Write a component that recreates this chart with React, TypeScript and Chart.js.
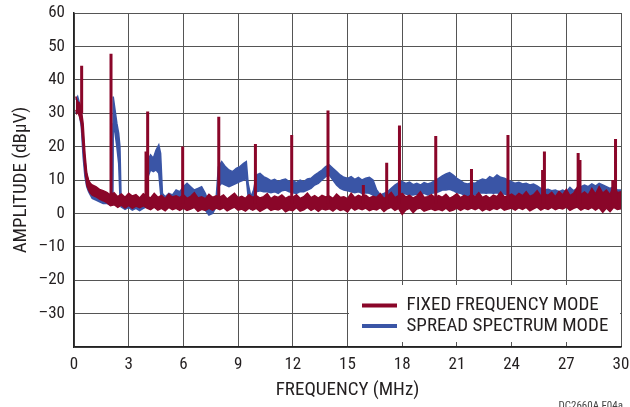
import React, { useEffect, useRef } from "react";
import { Chart, registerables } from "chart.js";

Chart.register(...registerables);

const FONT =
  "'Liberation Sans Narrow', 'Arial Narrow', 'Roboto Condensed', 'DejaVu Sans Condensed', 'Liberation Sans', Arial, sans-serif";

const RED = "#8a0629";
const BLUE = "#3a55a6";
const INK = "#231f20";

// ---- Axis ticks ----
const xTickValues = [0, 3, 6, 9, 12, 15, 18, 21, 24, 27, 30];
const xTickLabels = ["0", "3", "6", "9", "12", "15", "18", "21", "24", "27", "30"];
const yTickValues = [-30, -20, -10, 0, 10, 20, 30, 40, 50, 60];
const yTickLabels = ["–30", "–20", "–10", "0", "10", "20", "30", "40", "50", "60"];

const seriesLabels = ["FIXED FREQUENCY MODE", "SPREAD SPECTRUM MODE"];

// ---- Fixed frequency mode: noise floor band (MHz, dBµV) ----
const fixedFreqMHz = [
  0.1, 0.15, 0.2, 0.3, 0.4, 0.5, 0.6, 0.7, 0.8, 0.9, 1.0, 1.2, 1.4, 1.6, 1.8,
  2.0, 2.2, 2.4, 2.6, 2.8, 3.0, 3.2, 3.4, 3.6, 3.8,
  4.0, 4.2, 4.4, 4.6, 4.8, 5.0, 5.2, 5.4, 5.6, 5.8,
  6.0, 6.2, 6.4, 6.6, 6.8, 7.0, 7.2, 7.4, 7.6, 7.8,
  8.0, 8.2, 8.4, 8.6, 8.8, 9.0, 9.2, 9.4, 9.6, 9.8,
  10.0, 10.2, 10.4, 10.6, 10.8, 11.0, 11.2, 11.4, 11.6, 11.8,
  12.0, 12.2, 12.4, 12.6, 12.8, 13.0, 13.2, 13.4, 13.6, 13.8,
  14.0, 14.2, 14.4, 14.6, 14.8, 15.0, 15.2, 15.4, 15.6, 15.8,
  16.0, 16.2, 16.4, 16.6, 16.8, 17.0, 17.2, 17.4, 17.6, 17.8,
  18.0, 18.2, 18.4, 18.6, 18.8, 19.0, 19.2, 19.4, 19.6, 19.8,
  20.0, 20.2, 20.4, 20.6, 20.8, 21.0, 21.2, 21.4, 21.6, 21.8,
  22.0, 22.2, 22.4, 22.6, 22.8, 23.0, 23.2, 23.4, 23.6, 23.8,
  24.0, 24.2, 24.4, 24.6, 24.8, 25.0, 25.2, 25.4, 25.6, 25.8,
  26.0, 26.2, 26.4, 26.6, 26.8, 27.0, 27.2, 27.4, 27.6, 27.8,
  28.0, 28.2, 28.4, 28.6, 28.8, 29.0, 29.2, 29.4, 29.6, 29.8,
  30.0,
];
const fixedUpperDbuv = [
  35, 34, 33.5, 33, 31, 27, 18, 12, 10, 9, 8.5, 8, 7.2, 6.8, 6.3,
  5.5, 6.2, 5.0, 5.8, 4.8, 6.0, 5.2, 5.6, 4.6, 5.9,
  5.2, 4.6, 6.0, 4.8, 5.4, 4.4, 5.8, 4.9, 5.3, 4.7,
  5.6, 4.5, 5.1, 6.2, 4.6, 5.0, 4.4, 5.7, 4.8, 5.3,
  4.9, 5.5, 4.3, 5.2, 6.0, 4.7, 5.1, 4.5, 5.6, 4.8,
  5.3, 4.6, 5.0, 5.9, 4.4, 5.2, 4.8, 5.5, 4.5, 5.1,
  4.8, 5.6, 4.5, 5.0, 6.1, 4.7, 5.3, 4.6, 5.4, 4.9,
  5.2, 4.5, 5.8, 4.8, 5.0, 4.4, 6.0, 4.7, 5.4, 4.9,
  5.5, 4.6, 5.1, 4.8, 5.9, 4.5, 5.2, 6.3, 4.7, 5.3,
  6.0, 4.9, 5.4, 4.6, 5.2, 6.5, 4.8, 5.0, 5.6, 4.7,
  5.3, 4.8, 5.7, 4.5, 5.1, 5.9, 4.7, 5.4, 4.9, 5.6,
  5.0, 6.2, 4.8, 5.3, 4.6, 5.5, 5.0, 6.4, 4.9, 5.2,
  5.8, 5.0, 6.0, 5.3, 6.5, 5.1, 5.6, 6.8, 5.2, 5.9,
  5.4, 6.3, 5.0, 6.6, 5.5, 7.2, 5.3, 6.0, 7.8, 5.6,
  6.4, 5.5, 7.5, 5.8, 8.0, 6.1, 7.0, 5.6, 8.5, 6.2,
  6.5,
];
const fixedLowerDbuv = [
  31, 30, 30.5, 29, 27, 20, 13, 8.5, 7, 6, 5.5, 5, 4.3, 3.8, 3.2,
  2.3, 2.6, 1.8, 2.5, 1.6, 2.4, 1.5, 2.2, 1.7, 2.3,
  1.6, 1.1, 1.9, 1.0, 1.5, 0.8, 1.8, 1.1, 1.5, 0.9,
  1.6, 0.9, 1.3, 1.8, 0.6, 1.2, 0.9, 1.5, 1.0, 1.6,
  1.1, 1.7, 0.8, 1.4, 1.9, 1.0, 1.3, 0.7, 1.6, 1.0,
  1.5, 0.6, 1.2, 1.8, 0.9, 1.3, 1.0, 1.6, 0.5, 1.1,
  0.8, 1.7, 0.7, 1.1, 1.8, 0.9, 1.5, 0.6, 1.4, 1.0,
  1.4, 0.7, 1.6, 0.9, 1.2, 0.4, 1.8, 1.0, 1.5, 1.1,
  1.6, 0.8, 1.3, 1.0, 1.7, 0.6, 1.4, 1.8, 0.9, 1.5,
  -0.3, 1.0, 1.5, 0.2, 1.3, 1.6, 0.7, 1.1, 1.4, 0.9,
  1.2, 0.8, 1.6, 0.7, 1.0, 1.6, 0.9, 1.5, 1.1, 1.6,
  1.1, 1.7, 0.8, 1.4, 0.9, 1.5, 1.2, 1.8, 1.0, 1.3,
  1.6, 1.0, 1.7, 1.2, 1.8, 0.8, 1.4, 1.9, 1.0, 1.6,
  1.2, 1.8, 1.1, 1.6, 1.3, 1.9, 0.9, 1.5, 1.9, 1.0,
  1.6, 1.2, 1.8, 1.0, 1.7, 0.3, 1.6, 0.5, 1.8, 1.2,
  1.4,
];

// ---- Fixed frequency mode: switching harmonics (MHz, dBµV) ----
const spikeFreqMHz = [
  0.42, 2.03, 3.95, 4.04, 5.96, 7.94, 9.95, 11.94, 13.93, 15.87, 17.15,
  17.85, 19.84, 21.8, 23.8, 25.7, 25.8, 27.65, 27.75, 29.55, 29.7,
];
const spikePeakDbuv = [
  44.2, 47.8, 18.5, 30.5, 20, 28.9, 20.8, 23.5, 30.8, 8.5, 15.2,
  26.3, 23.2, 13.3, 23.5, 13, 18.5, 18.1, 16, 10, 22.3,
];
const spikeBaseDbuv = [
  30, 3, 3, 3, 3, 3, 3, 3, 3, 3, 3,
  3, 3, 3, 3, 3, 3, 3, 3, 3, 3,
];

// ---- Spread spectrum mode band (MHz, dBµV) ----
const spreadFreqMHz = [
  0.1, 0.2, 0.3, 0.4, 0.5, 0.6, 0.7, 0.8, 0.9, 1.0, 1.2, 1.4, 1.6, 1.8, 2.0,
  2.12, 2.15, 2.25, 2.35, 2.45, 2.52, 2.58, 2.8, 3.0, 3.2, 3.4, 3.6, 3.8,
  4.0, 4.06, 4.2, 4.35, 4.5, 4.65, 4.75, 4.85, 5.0, 5.2, 5.4, 5.6, 5.8,
  6.0, 6.2, 6.4, 6.6, 6.8, 7.0, 7.2, 7.4, 7.6, 7.8, 7.92,
  8.1, 8.3, 8.5, 8.7, 8.9, 9.1, 9.3, 9.45, 9.55, 9.7, 9.85,
  10.0, 10.2, 10.4, 10.6, 10.8, 11.0, 11.2, 11.4, 11.6, 11.8,
  12.0, 12.2, 12.4, 12.6, 12.8, 13.0, 13.2, 13.4, 13.6, 13.8,
  14.0, 14.2, 14.4, 14.6, 14.8, 15.0, 15.2, 15.4, 15.6, 15.8,
  16.0, 16.2, 16.4, 16.6, 16.8, 17.0, 17.2, 17.4, 17.6, 17.8,
  18.0, 18.2, 18.4, 18.6, 18.8, 19.0, 19.2, 19.4, 19.6, 19.8,
  20.0, 20.2, 20.4, 20.6, 20.8, 21.0, 21.2, 21.4, 21.6, 21.8,
  22.0, 22.2, 22.4, 22.6, 22.8, 23.0, 23.2, 23.4, 23.6, 23.8,
  24.0, 24.2, 24.4, 24.6, 24.8, 25.0, 25.2, 25.4, 25.6, 25.8,
  26.0, 26.2, 26.4, 26.6, 26.8, 27.0, 27.2, 27.4, 27.6, 27.8,
  28.0, 28.2, 28.4, 28.6, 28.8, 29.0, 29.2, 29.4, 29.6, 29.8,
  30.0,
];
const spreadUpperDbuv = [
  34, 35, 33, 30, 24, 16, 11.5, 9.5, 8.5, 7.5, 7, 6.5, 6, 6, 5.5,
  6, 35, 31, 27, 24, 20, 5, 4.5, 5, 4.2, 5, 4.5, 5,
  5, 16, 17.5, 16.5, 19, 20.5, 18, 6, 5, 6, 5.5, 7, 6.5,
  8, 9, 8, 7, 7.5, 8, 6, 3, 3.5, 5, 14,
  15.5, 14, 13, 12.5, 13.5, 14, 15, 15.5, 9, 5, 7,
  11.5, 12, 11, 10.5, 9.8, 10.2, 9.5, 10, 10.3, 9.5,
  9.8, 9.2, 10, 9.5, 10.3, 10.5, 11.5, 12.2, 13, 14,
  14.5, 13.5, 12.5, 11.5, 10.8, 10.5, 11, 10.2, 10.8, 10,
  10.5, 10.8, 10, 7, 5.5, 6, 6.5, 7.5, 8.5, 9.2,
  9.5, 9, 9.4, 8.6, 9, 8.5, 9.2, 8.8, 9.2, 9.8,
  10.5, 11.2, 11.8, 12.2, 11.5, 10.5, 9.8, 9, 8.8, 9.2,
  9, 9.8, 10.3, 10, 11, 10.5, 11.5, 10.8, 10.5, 10,
  9.5, 9, 9.3, 8.8, 9, 8.5, 8.8, 8.2, 7.5, 7,
  7.2, 6.8, 7, 6.5, 7, 6.5, 7.8, 6.8, 7.5, 8,
  8.5, 8, 8.8, 8.2, 9, 8.5, 8, 7.5, 8, 7,
  7,
];
const spreadLowerDbuv = [
  30, 31, 29.5, 26, 17, 11, 8, 6.5, 5.5, 4.5, 4, 3.5, 3, 3, 2.5,
  3, 27, 24, 20, 15, 5, 2, 1.2, 1.8, 1, 1.5, 0.8, 1.5,
  2, 11, 13, 12.5, 13, 12, 6, 2, 1.2, 2, 1.5, 2, 2.5,
  3, 3.5, 3, 2.5, 2, 2, 1, -0.5, 0, 2, 8,
  9, 8.5, 8, 8.5, 9, 9.5, 10, 10.5, 5, 1.5, 3,
  6.5, 6.8, 6.5, 6.5, 6.2, 6.5, 6, 6.8, 7, 6.5,
  6.2, 6, 6.5, 6.5, 7, 7.5, 8.5, 9, 10, 11,
  11.5, 10, 8.5, 7.5, 7, 6.8, 6.5, 6.2, 6.5, 6,
  6.2, 6, 5.5, 3.5, 2.5, 3, 3.5, 4, 5, 5.5,
  6, 5.8, 5.5, 5.5, 5.8, 5.5, 6, 5.5, 6, 6.2,
  6.5, 7, 7, 7.2, 6.8, 6.2, 6, 5.5, 5.2, 5.5,
  5.5, 6, 6.2, 6, 6.2, 6, 6.2, 5.8, 5.8, 5.5,
  5.2, 5, 5, 4.8, 5, 4.8, 4.8, 4.5, 4.2, 4,
  4, 3.8, 3.8, 3.5, 3.8, 3.5, 4, 3.8, 4, 4.2,
  4.5, 4.5, 4.5, 4.5, 4.8, 4.5, 4.2, 4, 4.2, 4,
  4,
];

type Pt = { x: number; y: number | null };

const toPoints = (xs: number[], ys: number[]): Pt[] =>
  xs.map((x, i) => ({ x, y: ys[i] }));

export default function App() {
  const canvasRef = useRef<HTMLCanvasElement | null>(null);

  useEffect(() => {
    const canvas = canvasRef.current;
    if (!canvas) return;

    const spikePoints: Pt[] = [];
    spikeFreqMHz.forEach((f, i) => {
      spikePoints.push({ x: f, y: spikeBaseDbuv[i] });
      spikePoints.push({ x: f, y: spikePeakDbuv[i] });
      spikePoints.push({ x: f, y: null });
    });

    const legendBackdrop = {
      id: "legendBackdrop",
      afterLayout(chart: any) {
        const lg = chart.legend;
        const ca = chart.chartArea;
        if (!lg || !ca) return;
        lg.left = ca.right - 260.5;
        lg.top = ca.bottom - 52.5;
        lg.right = ca.right - 1;
        lg.bottom = ca.bottom;
        lg.width = lg.right - lg.left;
        lg.height = lg.bottom - lg.top;
      },
      afterDatasetsDraw(chart: any) {
        const ca = chart.chartArea;
        const ctx = chart.ctx;
        ctx.save();
        ctx.fillStyle = "#ffffff";
        ctx.fillRect(ca.right - 272, ca.bottom - 62, 271, 57);
        ctx.restore();
        if (chart.legend) chart.legend.draw();
      },
      afterDraw(chart: any) {
        const ctx = chart.ctx;
        ctx.save();
        ctx.fillStyle = "#444";
        ctx.font = `11px ${FONT}`;
        ctx.textAlign = "right";
        ctx.textBaseline = "top";
        ctx.fillText("DC2660A F04a", chart.width - 7, chart.height - 6.5);
        ctx.restore();
      },
    };

    const chart = new Chart(canvas, {
      type: "line",
      data: {
        datasets: [
          {
            label: seriesLabels[0] + " harmonics",
            data: spikePoints as any,
            borderColor: RED,
            backgroundColor: RED,
            borderWidth: 3,
            borderCapStyle: "butt",
            pointRadius: 0,
            spanGaps: false,
            fill: false,
          },
          {
            label: seriesLabels[0],
            data: toPoints(fixedFreqMHz, fixedUpperDbuv) as any,
            borderColor: RED,
            backgroundColor: RED,
            borderWidth: 1.5,
            pointRadius: 0,
            fill: "+1",
          },
          {
            label: seriesLabels[0] + " floor",
            data: toPoints(fixedFreqMHz, fixedLowerDbuv) as any,
            borderColor: RED,
            backgroundColor: RED,
            borderWidth: 1.5,
            pointRadius: 0,
            fill: false,
          },
          {
            label: seriesLabels[1],
            data: toPoints(spreadFreqMHz, spreadUpperDbuv) as any,
            borderColor: BLUE,
            backgroundColor: BLUE,
            borderWidth: 1.5,
            pointRadius: 0,
            fill: "+1",
          },
          {
            label: seriesLabels[1] + " floor",
            data: toPoints(spreadFreqMHz, spreadLowerDbuv) as any,
            borderColor: BLUE,
            backgroundColor: BLUE,
            borderWidth: 1.5,
            pointRadius: 0,
            fill: false,
          },
        ],
      },
      options: {
        animation: false,
        responsive: true,
        maintainAspectRatio: false,
        events: [],
        layout: { padding: 0 },
        elements: { line: { tension: 0 } },
        scales: {
          x: {
            type: "linear",
            min: 0,
            max: 30,
            afterBuildTicks: (scale: any) => {
              scale.ticks = xTickValues.map((v) => ({ value: v }));
            },
            afterFit: (scale: any) => {
              scale.height = 60;
              scale.paddingRight = 9;
              scale.paddingLeft = 0;
            },
            ticks: {
              autoSkip: false,
              maxRotation: 0,
              padding: 8,
              color: INK,
              font: { family: FONT, size: 17 },
              callback: (v: any) => {
                const i = xTickValues.indexOf(Number(v));
                return i >= 0 ? xTickLabels[i] : "";
              },
            },
            grid: { color: "#555", lineWidth: 1, drawTicks: false },
            border: { color: "#222", width: 1.5 },
            title: {
              display: true,
              text: "FREQUENCY (MHz)",
              color: INK,
              font: { family: FONT, size: 19 },
              padding: { top: 0, bottom: 5 },
            },
          },
          y: {
            type: "linear",
            min: -40,
            max: 60,
            afterBuildTicks: (scale: any) => {
              scale.ticks = [-40, ...yTickValues].map((v) => ({ value: v }));
            },
            afterFit: (scale: any) => {
              scale.width = 74;
              scale.paddingTop = 13;
              scale.paddingBottom = 0;
            },
            ticks: {
              padding: 9,
              color: INK,
              font: { family: FONT, size: 17 },
              callback: (v: any) => {
                const i = yTickValues.indexOf(Number(v));
                return i >= 0 ? yTickLabels[i] : "";
              },
            },
            grid: { color: "#555", lineWidth: 1, drawTicks: false },
            border: { color: "#222", width: 1.5 },
            title: {
              display: true,
              text: "AMPLITUDE (dBµV)",
              color: INK,
              font: { family: FONT, size: 19 },
              padding: { top: 10, bottom: 0 },
            },
          },
        },
        plugins: {
          tooltip: { enabled: false },
          legend: {
            position: "chartArea",
            align: "start",
            labels: {
              boxWidth: 35,
              boxHeight: 4,
              padding: 1.5,
              color: INK,
              font: { family: FONT, size: 19 },
              generateLabels: () => [
                {
                  text: seriesLabels[0],
                  fillStyle: RED,
                  strokeStyle: RED,
                  lineWidth: 0,
                  hidden: false,
                  datasetIndex: 1,
                  fontColor: INK,
                },
                {
                  text: seriesLabels[1],
                  fillStyle: BLUE,
                  strokeStyle: BLUE,
                  lineWidth: 0,
                  hidden: false,
                  datasetIndex: 3,
                  fontColor: INK,
                },
              ],
            },
          },
        },
      } as any,
      plugins: [legendBackdrop],
    });

    return () => {
      chart.destroy();
    };
  }, []);

  return (
    <div
      style={{
        position: "absolute",
        left: 0,
        top: 0,
        width: 630,
        height: 407,
        background: "#ffffff",
      }}
    >
      <canvas ref={canvasRef} />
    </div>
  );
}
